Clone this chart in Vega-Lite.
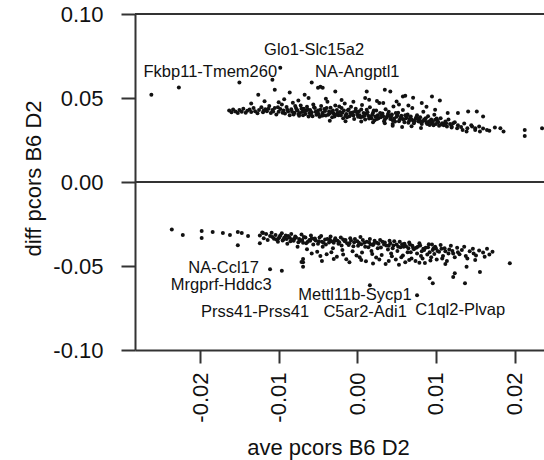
{
"$schema": "https://vega.github.io/schema/vega-lite/v6.json",
"width": 409,
"height": 336,
"autosize": {"type": "none"},
"padding": {"left": 135, "top": 14, "right": 0, "bottom": 110},
"background": "white",
"config": {"view": {"stroke": null}, "font": "Liberation Sans"},
"datasets": {
"pts": [
{"x":-0.0262,"y":0.0519},{"x":-0.0227,"y":0.0563},{"x":-0.0150,"y":0.0592},{"x":-0.0098,"y":0.0680},{"x":-0.0108,"y":0.0609},{"x":-0.0058,"y":0.0592},{"x":-0.0050,"y":0.0561},{"x":-0.0105,"y":0.0549},{"x":-0.0047,"y":0.0567},{"x":-0.0044,"y":0.0561},{"x":-0.0028,"y":0.0539},{"x":0.0012,"y":0.0539},{"x":0.0035,"y":0.0549},{"x":0.0042,"y":0.0539},{"x":0.0058,"y":0.0509},{"x":0.0071,"y":0.0501},{"x":0.0095,"y":0.0509},{"x":0.0105,"y":0.0485},{"x":-0.0126,"y":0.0519},{"x":-0.0086,"y":0.0533},{"x":-0.0067,"y":0.0519},
{"x":0.0061,"y":0.0513},{"x":0.0082,"y":0.0470},{"x":0.0050,"y":0.0479},{"x":0.0128,"y":0.0410},{"x":0.0141,"y":0.0419},{"x":0.0152,"y":0.0419},{"x":0.0160,"y":0.0390},{"x":0.0115,"y":0.0410},{"x":0.0099,"y":0.0430},
{"x":0.0134,"y":0.0310},{"x":0.0139,"y":0.0300},{"x":0.0150,"y":0.0320},{"x":0.0156,"y":0.0300},{"x":0.0165,"y":0.0310},{"x":0.0182,"y":0.0320},{"x":0.0186,"y":0.0300},{"x":0.0213,"y":0.0310},{"x":0.0213,"y":0.0274},{"x":0.0235,"y":0.0320},{"x":0.0120,"y":0.0330},{"x":0.0127,"y":0.0320},{"x":0.0146,"y":0.0330},{"x":0.0122,"y":0.0350},{"x":0.0112,"y":0.0350},
{"x":-0.0135,"y":0.0468},{"x":-0.0118,"y":0.0480},{"x":-0.0093,"y":0.0492},{"x":-0.0075,"y":0.0485},{"x":-0.0062,"y":0.0500},{"x":-0.0040,"y":0.0495},{"x":-0.0020,"y":0.0488},{"x":-0.0005,"y":0.0478},{"x":0.0015,"y":0.0490},{"x":0.0025,"y":0.0482},{"x":0.0033,"y":0.0470},{"x":0.0053,"y":0.0462},{"x":0.0065,"y":0.0455},{"x":0.0088,"y":0.0448},{"x":0.0010,"y":0.0500},{"x":-0.0100,"y":0.0475},
{"x":-0.0035,"y":0.0365},{"x":-0.0015,"y":0.0362},{"x":0.0005,"y":0.0360},{"x":0.0020,"y":0.0355},{"x":0.0035,"y":0.0350},{"x":0.0045,"y":0.0345},
{"x":-0.0163,"y":0.0425},{"x":-0.0160,"y":0.0415},{"x":-0.0158,"y":0.0432},{"x":-0.0155,"y":0.0420},{"x":-0.0152,"y":0.0410},{"x":-0.0150,"y":0.0428},{"x":-0.0147,"y":0.0418},{"x":-0.0145,"y":0.0436},{"x":-0.0142,"y":0.0412},{"x":-0.0140,"y":0.0424},{"x":-0.0137,"y":0.0431},{"x":-0.0135,"y":0.0416},{"x":-0.0132,"y":0.0440},{"x":-0.0130,"y":0.0421},{"x":-0.0127,"y":0.0409},{"x":-0.0125,"y":0.0428},{"x":-0.0122,"y":0.0445},{"x":-0.0120,"y":0.0415},{"x":-0.0117,"y":0.0433},{"x":-0.0115,"y":0.0421},{"x":-0.0112,"y":0.0452},{"x":-0.0110,"y":0.0410},{"x":-0.0108,"y":0.0428},{"x":-0.0105,"y":0.0440},{"x":-0.0103,"y":0.0402},{"x":-0.0100,"y":0.0418},{"x":-0.0098,"y":0.0435},{"x":-0.0096,"y":0.0461},{"x":-0.0094,"y":0.0425},{"x":-0.0092,"y":0.0408},{"x":-0.0090,"y":0.0447},{"x":-0.0088,"y":0.0420},{"x":-0.0086,"y":0.0398},{"x":-0.0084,"y":0.0433},{"x":-0.0082,"y":0.0471},{"x":-0.0080,"y":0.0412},{"x":-0.0078,"y":0.0441},{"x":-0.0076,"y":0.0426},{"x":-0.0074,"y":0.0395},{"x":-0.0072,"y":0.0455},{"x":-0.0070,"y":0.0418},{"x":-0.0068,"y":0.0436},{"x":-0.0066,"y":0.0405},{"x":-0.0064,"y":0.0448},{"x":-0.0062,"y":0.0390},{"x":-0.0060,"y":0.0428},{"x":-0.0058,"y":0.0415},{"x":-0.0056,"y":0.0462},{"x":-0.0054,"y":0.0440},{"x":-0.0052,"y":0.0400},{"x":-0.0050,"y":0.0425},{"x":-0.0048,"y":0.0388},{"x":-0.0046,"y":0.0452},{"x":-0.0044,"y":0.0412},{"x":-0.0042,"y":0.0434},{"x":-0.0040,"y":0.0396},{"x":-0.0038,"y":0.0478},{"x":-0.0036,"y":0.0420},{"x":-0.0034,"y":0.0442},{"x":-0.0032,"y":0.0385},{"x":-0.0030,"y":0.0408},{"x":-0.0028,"y":0.0456},{"x":-0.0026,"y":0.0429},{"x":-0.0024,"y":0.0398},{"x":-0.0022,"y":0.0416},{"x":-0.0020,"y":0.0440},{"x":-0.0018,"y":0.0380},{"x":-0.0016,"y":0.0468},{"x":-0.0014,"y":0.0405},{"x":-0.0012,"y":0.0427},{"x":-0.0010,"y":0.0392},{"x":-0.0008,"y":0.0448},{"x":-0.0006,"y":0.0414},{"x":-0.0004,"y":0.0375},{"x":-0.0002,"y":0.0436},{"x":0.0000,"y":0.0402},{"x":0.0002,"y":0.0420},{"x":0.0004,"y":0.0385},{"x":0.0006,"y":0.0458},{"x":0.0008,"y":0.0410},{"x":0.0010,"y":0.0372},{"x":0.0012,"y":0.0430},{"x":0.0014,"y":0.0395},{"x":0.0016,"y":0.0445},{"x":0.0018,"y":0.0380},{"x":0.0020,"y":0.0412},{"x":0.0022,"y":0.0368},{"x":0.0024,"y":0.0425},{"x":0.0026,"y":0.0398},{"x":0.0028,"y":0.0470},{"x":0.0030,"y":0.0385},{"x":0.0032,"y":0.0408},{"x":0.0034,"y":0.0362},{"x":0.0036,"y":0.0433},{"x":0.0038,"y":0.0392},{"x":0.0040,"y":0.0418},{"x":0.0042,"y":0.0375},{"x":0.0044,"y":0.0402},{"x":0.0046,"y":0.0450},{"x":0.0048,"y":0.0360},{"x":0.0050,"y":0.0388},{"x":0.0052,"y":0.0412},{"x":0.0054,"y":0.0370},{"x":0.0056,"y":0.0395},{"x":0.0058,"y":0.0428},{"x":0.0060,"y":0.0355},{"x":0.0062,"y":0.0380},{"x":0.0064,"y":0.0402},{"x":0.0066,"y":0.0365},{"x":0.0068,"y":0.0390},{"x":0.0070,"y":0.0440},{"x":0.0072,"y":0.0350},{"x":0.0074,"y":0.0375},{"x":0.0076,"y":0.0398},{"x":0.0078,"y":0.0360},{"x":0.0080,"y":0.0385},{"x":0.0082,"y":0.0345},{"x":0.0084,"y":0.0418},{"x":0.0086,"y":0.0368},{"x":0.0088,"y":0.0352},{"x":0.0090,"y":0.0392},{"x":0.0092,"y":0.0340},{"x":0.0094,"y":0.0372},{"x":0.0096,"y":0.0358},{"x":0.0098,"y":0.0400},{"x":0.0100,"y":0.0345},{"x":0.0102,"y":0.0365},{"x":0.0104,"y":0.0335},{"x":0.0106,"y":0.0380},{"x":0.0108,"y":0.0350},{"x":0.0110,"y":0.0338},{"x":0.0112,"y":0.0360},{"x":0.0114,"y":0.0330},{"x":0.0116,"y":0.0372},{"x":0.0118,"y":0.0345},{"x":0.0120,"y":0.0325},{"x":0.0124,"y":0.0355},{"x":0.0128,"y":0.0338},{"x":0.0132,"y":0.0328},{"x":0.0136,"y":0.0348},{"x":0.0140,"y":0.0320},{"x":0.0145,"y":0.0338},{"x":0.0150,"y":0.0310},{"x":0.0155,"y":0.0330},{"x":0.0160,"y":0.0318},{"x":0.0168,"y":0.0305},{"x":0.0175,"y":0.0325},
{"x":-0.0081,"y":0.0402},{"x":-0.0077,"y":0.0430},{"x":-0.0073,"y":0.0410},{"x":-0.0069,"y":0.0398},{"x":-0.0065,"y":0.0425},{"x":-0.0061,"y":0.0410},{"x":-0.0057,"y":0.0392},{"x":-0.0053,"y":0.0418},{"x":-0.0049,"y":0.0405},{"x":-0.0045,"y":0.0395},{"x":-0.0041,"y":0.0422},{"x":-0.0037,"y":0.0400},{"x":-0.0033,"y":0.0416},{"x":-0.0029,"y":0.0390},{"x":-0.0025,"y":0.0410},{"x":-0.0021,"y":0.0398},{"x":-0.0017,"y":0.0425},{"x":-0.0013,"y":0.0385},{"x":-0.0009,"y":0.0410},{"x":-0.0005,"y":0.0396},{"x":-0.0001,"y":0.0418},{"x":0.0003,"y":0.0398},{"x":0.0007,"y":0.0388},{"x":0.0011,"y":0.0408},{"x":0.0015,"y":0.0378},{"x":0.0019,"y":0.0400},{"x":0.0023,"y":0.0390},{"x":0.0027,"y":0.0380},{"x":0.0031,"y":0.0398},{"x":0.0035,"y":0.0372},{"x":0.0039,"y":0.0405},{"x":0.0043,"y":0.0388},{"x":0.0047,"y":0.0378},{"x":0.0051,"y":0.0398},{"x":0.0055,"y":0.0382},{"x":0.0059,"y":0.0370},{"x":0.0063,"y":0.0390},{"x":0.0067,"y":0.0378},{"x":0.0071,"y":0.0365},{"x":0.0075,"y":0.0385},{"x":0.0079,"y":0.0372},{"x":0.0083,"y":0.0362},{"x":0.0087,"y":0.0380},{"x":0.0091,"y":0.0360},{"x":0.0095,"y":0.0348},{"x":0.0099,"y":0.0370},{"x":0.0103,"y":0.0355},{"x":0.0045,"y":0.0335},{"x":0.0057,"y":0.0328},{"x":0.0069,"y":0.0332},{"x":0.0081,"y":0.0322},
{"x":-0.0119,"y":0.0425},{"x":-0.0113,"y":0.0436},{"x":-0.0107,"y":0.0419},{"x":-0.0101,"y":0.0445},{"x":-0.0095,"y":0.0412},{"x":-0.0089,"y":0.0430},{"x":-0.0083,"y":0.0418},{"x":-0.0079,"y":0.0452},{"x":-0.0075,"y":0.0405},{"x":-0.0071,"y":0.0438},{"x":-0.0067,"y":0.0420},{"x":-0.0063,"y":0.0432},{"x":-0.0059,"y":0.0402},{"x":-0.0055,"y":0.0445},{"x":-0.0051,"y":0.0415},{"x":-0.0047,"y":0.0430},{"x":-0.0043,"y":0.0398},{"x":-0.0039,"y":0.0440},{"x":-0.0035,"y":0.0408},{"x":-0.0031,"y":0.0425},{"x":-0.0027,"y":0.0400},{"x":-0.0023,"y":0.0450},{"x":-0.0019,"y":0.0412},{"x":-0.0015,"y":0.0395},{"x":-0.0011,"y":0.0432},{"x":-0.0007,"y":0.0402},{"x":-0.0003,"y":0.0420},{"x":0.0001,"y":0.0388},{"x":0.0005,"y":0.0432},{"x":0.0009,"y":0.0395},{"x":0.0013,"y":0.0415},{"x":0.0017,"y":0.0388},{"x":0.0021,"y":0.0425},{"x":0.0025,"y":0.0375},{"x":0.0029,"y":0.0410},{"x":0.0033,"y":0.0392},{"x":0.0037,"y":0.0382},{"x":0.0041,"y":0.0395},{"x":0.0045,"y":0.0368},{"x":0.0049,"y":0.0410},{"x":0.0053,"y":0.0362},{"x":0.0057,"y":0.0378},{"x":0.0061,"y":0.0398},{"x":0.0065,"y":0.0352},{"x":0.0069,"y":0.0372},{"x":0.0073,"y":0.0362},{"x":0.0077,"y":0.0380},{"x":0.0081,"y":0.0355},{"x":0.0085,"y":0.0372},{"x":0.0089,"y":0.0345},{"x":0.0093,"y":0.0362},{"x":0.0097,"y":0.0338},{"x":0.0101,"y":0.0378},{"x":0.0107,"y":0.0342},{"x":0.0113,"y":0.0350},
{"x":-0.0236,"y":-0.0282},{"x":-0.0222,"y":-0.0316},{"x":-0.0198,"y":-0.0291},{"x":-0.0198,"y":-0.0334},{"x":-0.0184,"y":-0.0297},{"x":-0.0171,"y":-0.0304},{"x":-0.0162,"y":-0.0316},{"x":-0.0152,"y":-0.0297},{"x":-0.0147,"y":-0.0304},{"x":-0.0152,"y":-0.0376},{"x":-0.0139,"y":-0.0322},{"x":-0.0124,"y":-0.0364},{"x":-0.0120,"y":-0.0304},{"x":-0.0111,"y":-0.0519},{"x":-0.0096,"y":-0.0528},{"x":-0.0069,"y":-0.0477},{"x":-0.0069,"y":-0.0459},{"x":-0.0071,"y":-0.0476},{"x":-0.0069,"y":-0.0505},
{"x":0.0092,"y":-0.0573},{"x":0.0096,"y":-0.0603},{"x":0.0124,"y":-0.0543},{"x":0.0137,"y":-0.0603},{"x":0.0156,"y":-0.0535},{"x":0.0139,"y":-0.0505},{"x":0.0016,"y":-0.0615},{"x":0.0076,"y":-0.0674},{"x":0.0194,"y":-0.0483},{"x":0.0122,"y":-0.0565},
{"x":-0.0045,"y":-0.0470},{"x":-0.0030,"y":-0.0458},{"x":-0.0010,"y":-0.0478},{"x":0.0005,"y":-0.0465},{"x":0.0020,"y":-0.0485},{"x":0.0040,"y":-0.0470},{"x":0.0053,"y":-0.0492},{"x":0.0066,"y":-0.0465},{"x":0.0079,"y":-0.0480},{"x":0.0093,"y":-0.0468},{"x":0.0112,"y":-0.0488},{"x":0.0150,"y":-0.0465},{"x":0.0162,"y":-0.0445},{"x":0.0168,"y":-0.0432},
{"x":-0.0124,"y":-0.0318},{"x":-0.0121,"y":-0.0300},{"x":-0.0119,"y":-0.0335},{"x":-0.0116,"y":-0.0310},{"x":-0.0114,"y":-0.0345},{"x":-0.0111,"y":-0.0322},{"x":-0.0109,"y":-0.0302},{"x":-0.0106,"y":-0.0338},{"x":-0.0104,"y":-0.0315},{"x":-0.0101,"y":-0.0355},{"x":-0.0099,"y":-0.0328},{"x":-0.0096,"y":-0.0305},{"x":-0.0094,"y":-0.0342},{"x":-0.0091,"y":-0.0318},{"x":-0.0089,"y":-0.0368},{"x":-0.0086,"y":-0.0332},{"x":-0.0084,"y":-0.0310},{"x":-0.0081,"y":-0.0350},{"x":-0.0079,"y":-0.0325},{"x":-0.0076,"y":-0.0385},{"x":-0.0074,"y":-0.0340},{"x":-0.0071,"y":-0.0312},{"x":-0.0069,"y":-0.0362},{"x":-0.0066,"y":-0.0330},{"x":-0.0064,"y":-0.0400},{"x":-0.0061,"y":-0.0345},{"x":-0.0059,"y":-0.0318},{"x":-0.0056,"y":-0.0372},{"x":-0.0054,"y":-0.0336},{"x":-0.0051,"y":-0.0415},{"x":-0.0049,"y":-0.0352},{"x":-0.0046,"y":-0.0322},{"x":-0.0044,"y":-0.0385},{"x":-0.0041,"y":-0.0342},{"x":-0.0039,"y":-0.0430},{"x":-0.0036,"y":-0.0360},{"x":-0.0034,"y":-0.0325},{"x":-0.0031,"y":-0.0395},{"x":-0.0029,"y":-0.0348},{"x":-0.0026,"y":-0.0445},{"x":-0.0024,"y":-0.0368},{"x":-0.0021,"y":-0.0330},{"x":-0.0019,"y":-0.0405},{"x":-0.0016,"y":-0.0352},{"x":-0.0014,"y":-0.0460},{"x":-0.0011,"y":-0.0375},{"x":-0.0009,"y":-0.0335},{"x":-0.0006,"y":-0.0412},{"x":-0.0004,"y":-0.0358},{"x":-0.0001,"y":-0.0438},{"x":0.0001,"y":-0.0380},{"x":0.0004,"y":-0.0328},{"x":0.0006,"y":-0.0420},{"x":0.0009,"y":-0.0362},{"x":0.0011,"y":-0.0472},{"x":0.0014,"y":-0.0388},{"x":0.0016,"y":-0.0340},{"x":0.0019,"y":-0.0428},{"x":0.0021,"y":-0.0368},{"x":0.0024,"y":-0.0450},{"x":0.0026,"y":-0.0395},{"x":0.0029,"y":-0.0345},{"x":0.0031,"y":-0.0435},{"x":0.0034,"y":-0.0372},{"x":0.0036,"y":-0.0488},{"x":0.0039,"y":-0.0402},{"x":0.0041,"y":-0.0350},{"x":0.0044,"y":-0.0442},{"x":0.0046,"y":-0.0378},{"x":0.0049,"y":-0.0462},{"x":0.0051,"y":-0.0410},{"x":0.0054,"y":-0.0355},{"x":0.0056,"y":-0.0448},{"x":0.0059,"y":-0.0385},{"x":0.0061,"y":-0.0478},{"x":0.0064,"y":-0.0418},{"x":0.0066,"y":-0.0360},{"x":0.0069,"y":-0.0455},{"x":0.0071,"y":-0.0392},{"x":0.0074,"y":-0.0470},{"x":0.0076,"y":-0.0425},{"x":0.0079,"y":-0.0365},{"x":0.0081,"y":-0.0440},{"x":0.0084,"y":-0.0398},{"x":0.0086,"y":-0.0482},{"x":0.0089,"y":-0.0432},{"x":0.0091,"y":-0.0370},{"x":0.0094,"y":-0.0448},{"x":0.0096,"y":-0.0405},{"x":0.0099,"y":-0.0385},{"x":0.0101,"y":-0.0462},{"x":0.0104,"y":-0.0415},{"x":0.0106,"y":-0.0375},{"x":0.0109,"y":-0.0440},{"x":0.0111,"y":-0.0395},{"x":0.0114,"y":-0.0470},{"x":0.0116,"y":-0.0425},{"x":0.0119,"y":-0.0380},{"x":0.0121,"y":-0.0410},{"x":0.0124,"y":-0.0448},{"x":0.0127,"y":-0.0392},{"x":0.0130,"y":-0.0430},{"x":0.0133,"y":-0.0405},{"x":0.0136,"y":-0.0385},{"x":0.0140,"y":-0.0455},{"x":0.0143,"y":-0.0412},{"x":0.0147,"y":-0.0398},{"x":0.0151,"y":-0.0438},{"x":0.0155,"y":-0.0408},{"x":0.0160,"y":-0.0420},{"x":0.0165,"y":-0.0398},{"x":0.0172,"y":-0.0415},
{"x":-0.0100,"y":-0.0335},{"x":-0.0095,"y":-0.0348},{"x":-0.0090,"y":-0.0340},{"x":-0.0085,"y":-0.0352},{"x":-0.0080,"y":-0.0338},{"x":-0.0075,"y":-0.0358},{"x":-0.0070,"y":-0.0345},{"x":-0.0065,"y":-0.0365},{"x":-0.0060,"y":-0.0350},{"x":-0.0055,"y":-0.0340},{"x":-0.0050,"y":-0.0368},{"x":-0.0045,"y":-0.0355},{"x":-0.0040,"y":-0.0372},{"x":-0.0035,"y":-0.0342},{"x":-0.0030,"y":-0.0362},{"x":-0.0025,"y":-0.0350},{"x":-0.0020,"y":-0.0378},{"x":-0.0015,"y":-0.0345},{"x":-0.0010,"y":-0.0365},{"x":-0.0005,"y":-0.0382},{"x":0.0000,"y":-0.0352},{"x":0.0005,"y":-0.0370},{"x":0.0010,"y":-0.0385},{"x":0.0015,"y":-0.0358},{"x":0.0020,"y":-0.0375},{"x":0.0025,"y":-0.0362},{"x":0.0030,"y":-0.0390},{"x":0.0035,"y":-0.0360},{"x":0.0040,"y":-0.0380},{"x":0.0045,"y":-0.0395},{"x":0.0050,"y":-0.0372},{"x":0.0055,"y":-0.0388},{"x":0.0060,"y":-0.0368},{"x":0.0065,"y":-0.0395},{"x":0.0070,"y":-0.0380},{"x":0.0075,"y":-0.0392},{"x":0.0080,"y":-0.0378},{"x":0.0085,"y":-0.0405},{"x":0.0090,"y":-0.0388},{"x":0.0095,"y":-0.0372},{"x":0.0100,"y":-0.0395},
{"x":-0.0108,"y":-0.0328},{"x":-0.0103,"y":-0.0342},{"x":-0.0098,"y":-0.0318},{"x":-0.0093,"y":-0.0332},{"x":-0.0088,"y":-0.0322},{"x":-0.0083,"y":-0.0342},{"x":-0.0078,"y":-0.0330},{"x":-0.0073,"y":-0.0350},{"x":-0.0068,"y":-0.0328},{"x":-0.0063,"y":-0.0355},{"x":-0.0058,"y":-0.0335},{"x":-0.0053,"y":-0.0348},{"x":-0.0048,"y":-0.0330},{"x":-0.0043,"y":-0.0362},{"x":-0.0038,"y":-0.0340},{"x":-0.0033,"y":-0.0352},{"x":-0.0028,"y":-0.0335},{"x":-0.0023,"y":-0.0358},{"x":-0.0018,"y":-0.0342},{"x":-0.0013,"y":-0.0365},{"x":-0.0008,"y":-0.0348},{"x":-0.0003,"y":-0.0340},{"x":0.0002,"y":-0.0362},{"x":0.0007,"y":-0.0345},{"x":0.0012,"y":-0.0355},{"x":0.0017,"y":-0.0372},{"x":0.0022,"y":-0.0350},{"x":0.0027,"y":-0.0368},{"x":0.0032,"y":-0.0355},{"x":0.0037,"y":-0.0378},{"x":0.0042,"y":-0.0365},{"x":0.0047,"y":-0.0352},{"x":0.0052,"y":-0.0385},{"x":0.0057,"y":-0.0370},{"x":0.0062,"y":-0.0382},{"x":0.0067,"y":-0.0372},{"x":0.0072,"y":-0.0400},{"x":0.0077,"y":-0.0385},{"x":0.0082,"y":-0.0412},{"x":0.0087,"y":-0.0392},{"x":0.0092,"y":-0.0418},{"x":0.0097,"y":-0.0395},{"x":0.0102,"y":-0.0410},{"x":0.0107,"y":-0.0398},{"x":0.0112,"y":-0.0412},{"x":0.0117,"y":-0.0402},{"x":0.0122,"y":-0.0425},
{"x":-0.0058,"y":-0.0425},{"x":-0.0047,"y":-0.0440},{"x":-0.0033,"y":-0.0418},{"x":-0.0018,"y":-0.0432},{"x":0.0003,"y":-0.0448},{"x":0.0018,"y":-0.0410},{"x":0.0028,"y":-0.0462},{"x":0.0043,"y":-0.0425},{"x":0.0058,"y":-0.0438},{"x":0.0068,"y":-0.0418},{"x":0.0083,"y":-0.0455},{"x":0.0098,"y":-0.0428},{"x":0.0108,"y":-0.0455},{"x":0.0128,"y":-0.0418},{"x":0.0138,"y":-0.0440},{"x":0.0148,"y":-0.0425}
],
"labs": [
{"x":-0.0055,"y":0.0758,"t":"Glo1-Slc15a2"},
{"x":-0.0187,"y":0.0624,"t":"Fkbp11-Tmem260"},
{"x":0.0000,"y":0.0624,"t":"NA-Angptl1"},
{"x":-0.0170,"y":-0.0541,"t":"NA-Ccl17"},
{"x":-0.0173,"y":-0.0640,"t":"Mrgprf-Hddc3"},
{"x":-0.0003,"y":-0.0704,"t":"Mettl11b-Sycp1"},
{"x":-0.0130,"y":-0.0804,"t":"Prss41-Prss41"},
{"x":0.0010,"y":-0.0804,"t":"C5ar2-Adi1"},
{"x":0.0131,"y":-0.0794,"t":"C1ql2-Plvap"}
],
"lines": [{"y":0.1},{"y":0}]
},
"layer": [
{
"data": {"name": "lines"},
"mark": {"type": "rule", "color": "#333333", "strokeWidth": 2},
"encoding": {"y": {"field": "y", "type": "quantitative", "scale": {"domain": [-0.1, 0.1]}}}
},
{
"data": {"name": "pts"},
"mark": {"type": "circle", "color": "#111111", "opacity": 1, "size": 16, "clip": true},
"encoding": {
"x": {"field": "x", "type": "quantitative",
"scale": {"domain": [-0.02828, 0.02375], "nice": false, "zero": false},
"axis": {"values": [-0.02, -0.01, 0, 0.01, 0.02], "labelExpr": "replace(format(datum.value,'.2f'),'\u2212','-')",
"title": "ave pcors B6 D2", "grid": false, "domainColor": "#333333", "domainWidth": 2, "tickColor": "#333333", "tickWidth": 2, "tickSize": 13,
"labelAngle": -90, "labelPadding": 9, "labelFontSize": 22, "labelColor": "#111111", "labelFont": "Liberation Sans",
"titleFontSize": 22, "titleFontWeight": "normal", "titleColor": "#111111", "titleFont": "Liberation Sans",
"titleX": 193, "titleY": 104, "titleBaseline": "alphabetic", "titleAlign": "center", "labelFlush": false, "labelOverlap": false}},
"y": {"field": "y", "type": "quantitative",
"scale": {"domain": [-0.1, 0.1], "nice": false, "zero": false},
"axis": {"values": [-0.1, -0.05, 0, 0.05, 0.1], "labelExpr": "replace(format(datum.value,'.2f'),'\u2212','-')",
"title": "diff pcors B6 D2", "grid": false, "domainColor": "#333333", "domainWidth": 2, "tickColor": "#333333", "tickWidth": 2, "tickSize": 14,
"labelPadding": 18, "labelFontSize": 22, "labelColor": "#111111", "labelFont": "Liberation Sans", "labelFlush": false, "labelOverlap": false,
"titleFontSize": 22, "titleFontWeight": "normal", "titleColor": "#111111", "titleFont": "Liberation Sans",
"titleX": -95, "titleY": 164, "titleAngle": 270, "titleBaseline": "alphabetic", "titleAlign": "center"}}
}
},
{
"data": {"name": "labs"},
"mark": {"type": "text", "font": "Liberation Sans", "fontSize": 16.5, "color": "#111111", "align": "center", "baseline": "alphabetic"},
"encoding": {
"x": {"field": "x", "type": "quantitative"},
"y": {"field": "y", "type": "quantitative"},
"text": {"field": "t"}
}
}
]
}
